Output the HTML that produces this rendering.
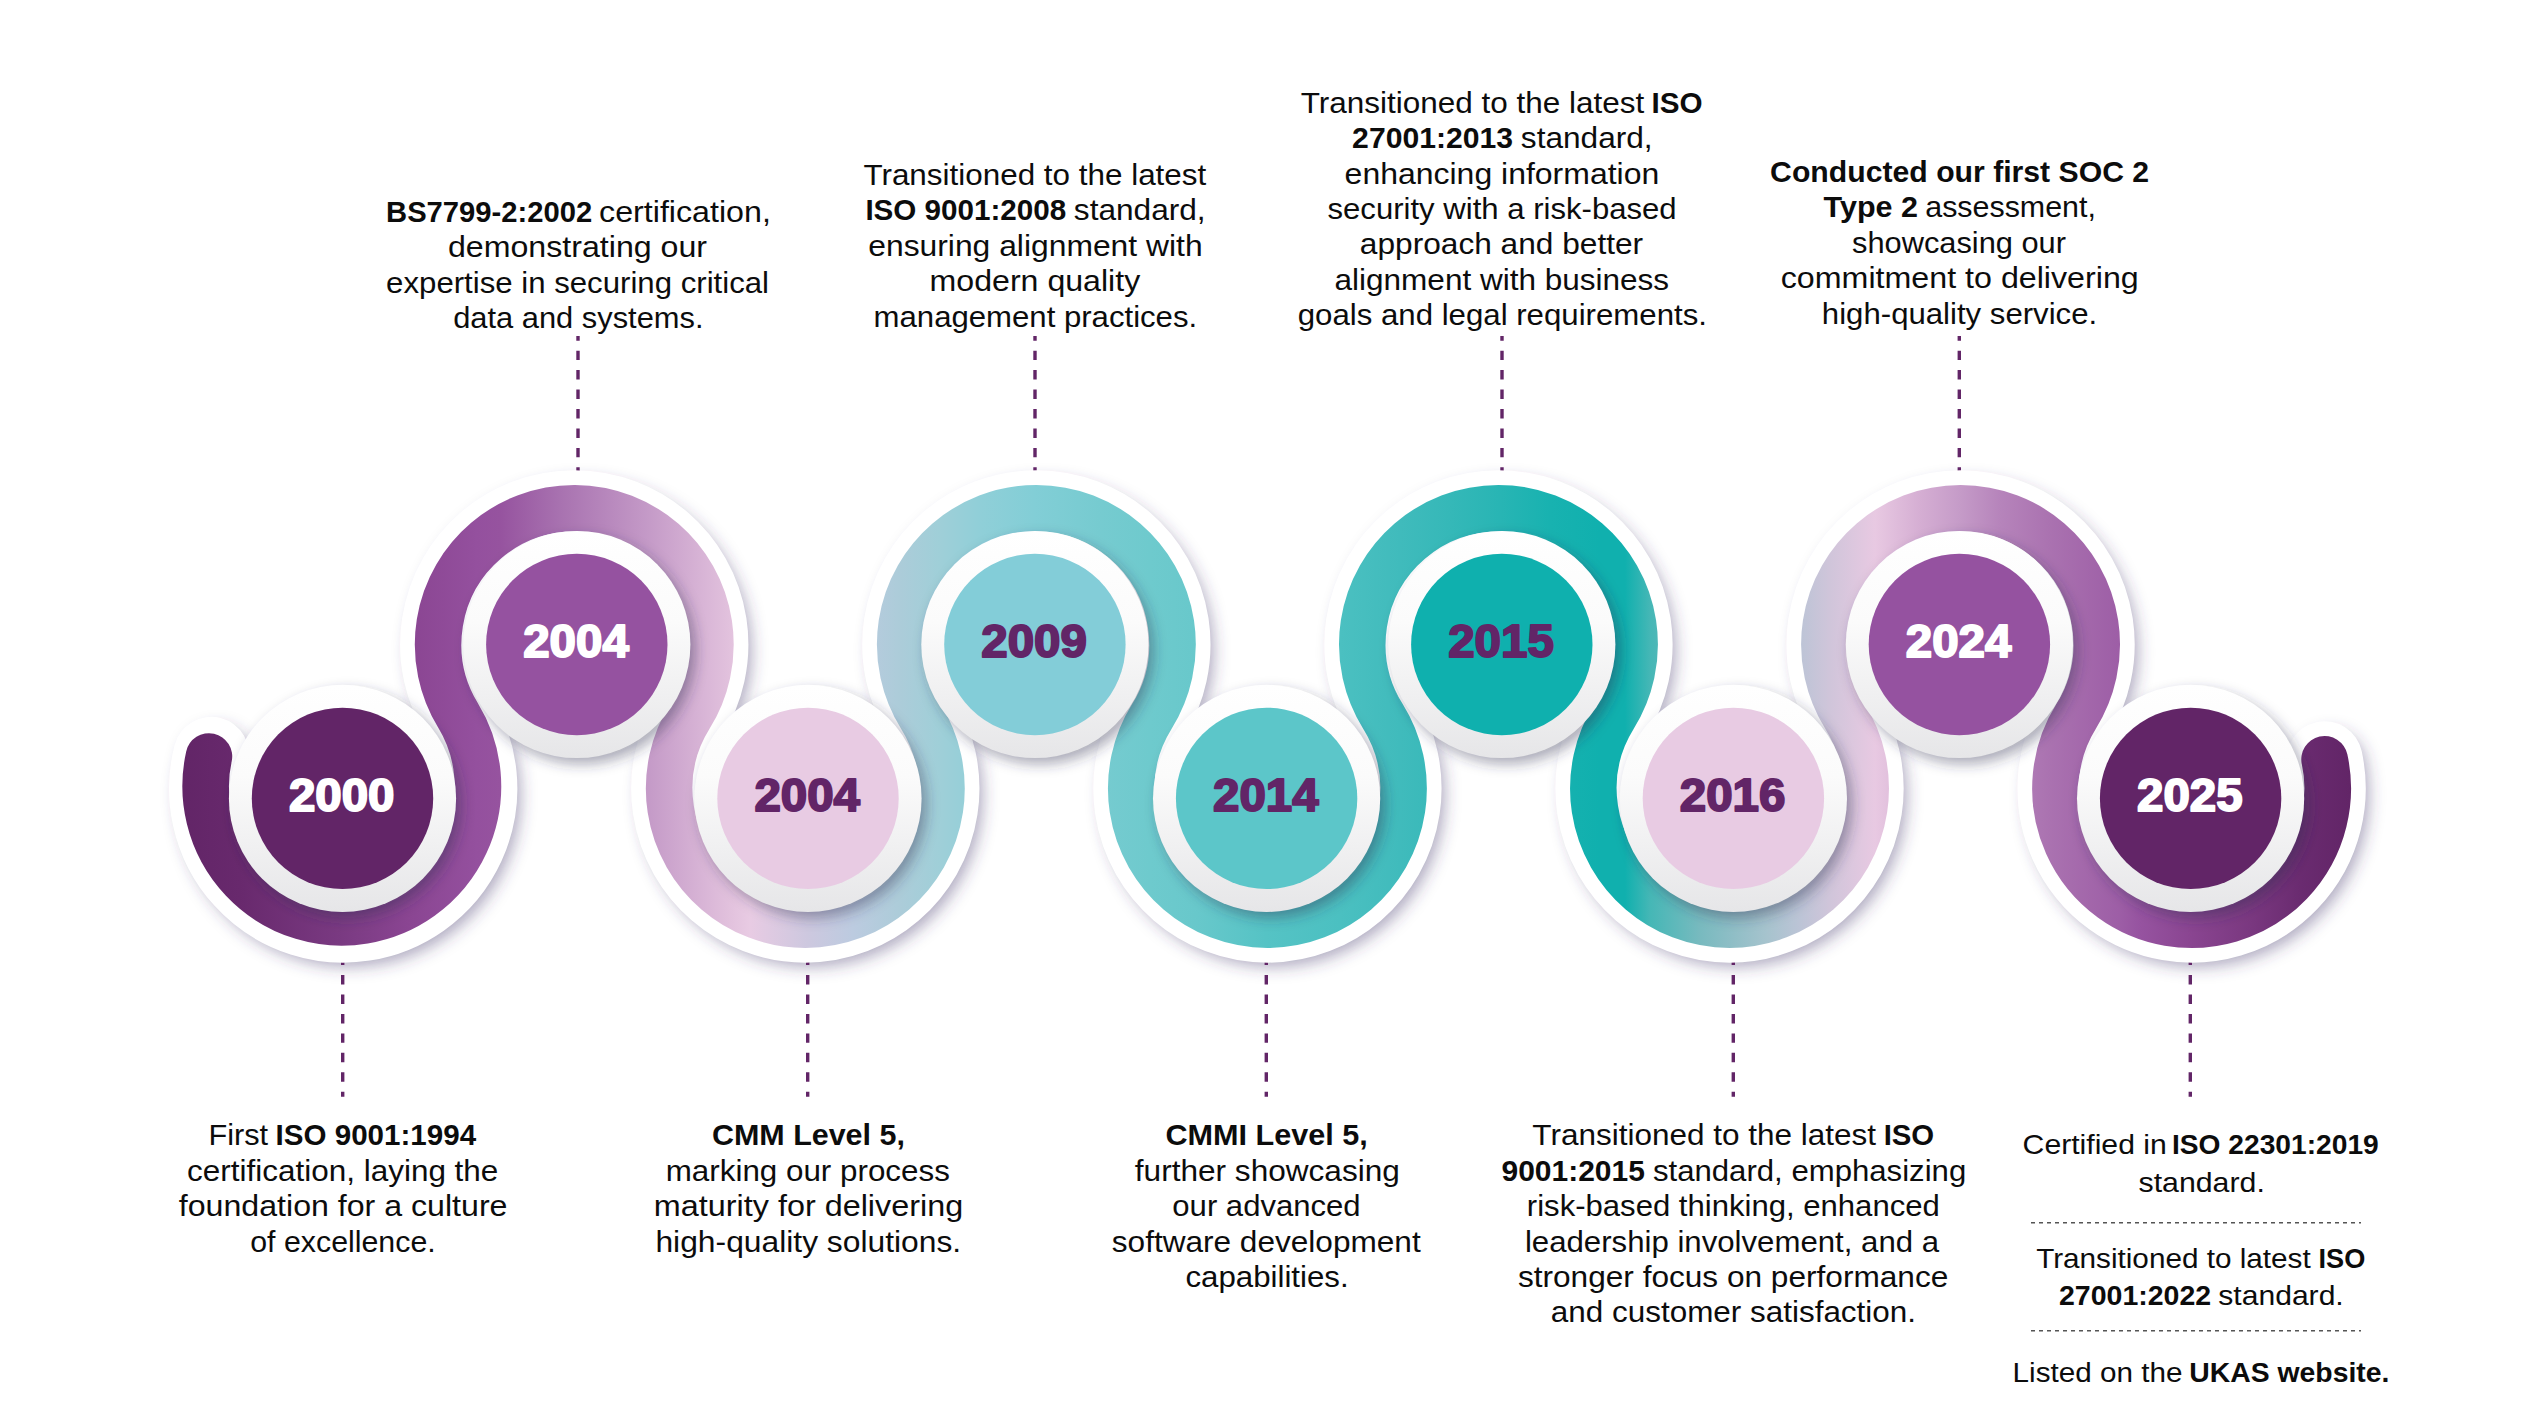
<!DOCTYPE html>
<html lang="en">
<head>
<meta charset="utf-8">
<title>Certification timeline</title>
<style>
html,body{margin:0;padding:0;background:#fff;}
body{width:2526px;height:1420px;overflow:hidden;}
svg{display:block;}
.t text{font-family:"Liberation Sans",sans-serif;fill:#0c0c0c;}
.t text.b{font-weight:bold;}
.yr text{font-family:"Liberation Sans",sans-serif;font-weight:bold;font-size:46.6px;stroke-width:2px;stroke-linejoin:round;}
</style>
</head>
<body>
<svg width="2526" height="1420" viewBox="0 0 2526 1420">
<defs>
<linearGradient id="bg" gradientUnits="userSpaceOnUse" x1="180.0" y1="0" x2="2352.0" y2="0"><stop offset="0.0009" stop-color="#622567"/><stop offset="0.0276" stop-color="#68296d"/><stop offset="0.0746" stop-color="#7a3a82"/><stop offset="0.1054" stop-color="#8a4592"/><stop offset="0.1367" stop-color="#94509e"/><stop offset="0.1473" stop-color="#96539f"/><stop offset="0.1750" stop-color="#a872b0"/><stop offset="0.2164" stop-color="#c59bc8"/><stop offset="0.2546" stop-color="#e3c3de"/><stop offset="0.2624" stop-color="#e8cbe3"/><stop offset="0.2891" stop-color="#cdc8df"/><stop offset="0.3099" stop-color="#bccbe0"/><stop offset="0.3315" stop-color="#acccd9"/><stop offset="0.3499" stop-color="#9fcfd8"/><stop offset="0.3683" stop-color="#90cfd8"/><stop offset="0.3936" stop-color="#82ced6"/><stop offset="0.4236" stop-color="#76cbd0"/><stop offset="0.4466" stop-color="#6ecacd"/><stop offset="0.4678" stop-color="#68c8cb"/><stop offset="0.5000" stop-color="#55c3c5"/><stop offset="0.5341" stop-color="#4bc0c1"/><stop offset="0.5617" stop-color="#40bbbc"/><stop offset="0.5847" stop-color="#35b8b8"/><stop offset="0.6077" stop-color="#28b5b4"/><stop offset="0.6308" stop-color="#18b2b0"/><stop offset="0.6538" stop-color="#10b0ae"/><stop offset="0.6653" stop-color="#10b0ae"/><stop offset="0.6768" stop-color="#45b7b6"/><stop offset="0.6998" stop-color="#78babf"/><stop offset="0.7150" stop-color="#8fbec6"/><stop offset="0.7297" stop-color="#a5c3cd"/><stop offset="0.7459" stop-color="#bcc4d6"/><stop offset="0.7597" stop-color="#d0c5da"/><stop offset="0.7804" stop-color="#e8c9e2"/><stop offset="0.8011" stop-color="#d5aed3"/><stop offset="0.8195" stop-color="#c59bc8"/><stop offset="0.8379" stop-color="#b684bb"/><stop offset="0.8610" stop-color="#aa72b0"/><stop offset="0.8927" stop-color="#9d5ea6"/><stop offset="0.9024" stop-color="#9653a0"/><stop offset="0.9254" stop-color="#8a4591"/><stop offset="0.9530" stop-color="#7a3880"/><stop offset="0.9761" stop-color="#6a2b70"/><stop offset="0.9991" stop-color="#622567"/></linearGradient>
<linearGradient id="dg" x1="0" y1="0" x2="0" y2="1"><stop offset="0" stop-color="#ffffff"/><stop offset="0.4" stop-color="#fbfbfb"/><stop offset="1" stop-color="#e6e6e8"/></linearGradient>
<filter id="bs" x="-5%" y="-20%" width="110%" height="140%"><feGaussianBlur stdDeviation="8"/></filter>
<filter id="ds" x="-20%" y="-20%" width="140%" height="140%"><feGaussianBlur stdDeviation="6.5"/></filter>
</defs>
<rect width="2526" height="1420" fill="#ffffff"/>
<g fill="none" stroke-linecap="round">
<path d="M211.27 754.87 A136.15 136.15 0 1 0 458.73 716.45 A136.15 136.15 0 1 1 689.77 716.45 A136.15 136.15 0 1 0 920.83 716.45 A136.15 136.15 0 1 1 1151.88 716.45 A136.15 136.15 0 1 0 1382.93 716.45 A136.15 136.15 0 1 1 1613.98 716.45 A136.15 136.15 0 1 0 1845.03 716.45 A136.15 136.15 0 1 1 2076.08 716.45 A136.15 136.15 0 1 0 2324.58 759.26" stroke="#41386a" stroke-opacity="0.43" stroke-width="70.0" filter="url(#bs)" transform="translate(6 7)"/>
</g>
<g stroke="#622567" stroke-width="3.4" stroke-dasharray="9.45 10" fill="none"><line x1="578" y1="335.9" x2="578" y2="475" stroke-dashoffset="4.72"/><line x1="1035" y1="335.9" x2="1035" y2="475" stroke-dashoffset="4.72"/><line x1="1502" y1="335.9" x2="1502" y2="475" stroke-dashoffset="4.72"/><line x1="1959.3" y1="335.9" x2="1959.3" y2="475" stroke-dashoffset="4.72"/><line x1="342.7" y1="955.6" x2="342.7" y2="1096.8" stroke-dashoffset="0"/><line x1="807.7" y1="955.6" x2="807.7" y2="1096.8" stroke-dashoffset="0"/><line x1="1266.3" y1="955.6" x2="1266.3" y2="1096.8" stroke-dashoffset="0"/><line x1="1733.3" y1="955.6" x2="1733.3" y2="1096.8" stroke-dashoffset="0"/><line x1="2190.3" y1="955.6" x2="2190.3" y2="1096.8" stroke-dashoffset="0"/></g>
<g fill="none" stroke-linecap="round">
<path d="M211.27 754.87 A136.15 136.15 0 1 0 458.73 716.45 A136.15 136.15 0 1 1 689.77 716.45 A136.15 136.15 0 1 0 920.83 716.45 A136.15 136.15 0 1 1 1151.88 716.45 A136.15 136.15 0 1 0 1382.93 716.45 A136.15 136.15 0 1 1 1613.98 716.45 A136.15 136.15 0 1 0 1845.03 716.45 A136.15 136.15 0 1 1 2076.08 716.45 A136.15 136.15 0 1 0 2324.58 759.26" stroke="#ffffff" stroke-width="76.0"/>
<path d="M208.94 756.5 A136.14 136.14 0 1 0 458.02 715.3 A136.15 136.15 0 1 1 689.77 716.45 A136.15 136.15 0 1 0 920.83 716.45 A136.15 136.15 0 1 1 1151.88 716.45 A136.15 136.15 0 1 0 1382.93 716.45 A136.15 136.15 0 1 1 1613.98 716.45 A136.15 136.15 0 1 0 1845.03 716.45 A136.15 136.15 0 1 1 2076.08 716.45 A136.15 136.15 0 1 0 2324.58 759.26" stroke="url(#bg)" stroke-width="46.6"/>
</g>
<g fill="#2c3050" fill-opacity="0.4" filter="url(#ds)" transform="translate(5 6)"><circle cx="342.5" cy="798.4" r="113.6"/><circle cx="576.8" cy="644.5" r="113.6"/><circle cx="808" cy="798.4" r="113.6"/><circle cx="1034.9" cy="644.5" r="113.6"/><circle cx="1266.6" cy="798.4" r="113.6"/><circle cx="1501.8" cy="644.5" r="113.6"/><circle cx="1733.4" cy="798.4" r="113.6"/><circle cx="1959.4" cy="644.5" r="113.6"/><circle cx="2190.6" cy="798.4" r="113.6"/></g>
<g><circle cx="342.5" cy="798.4" r="113.6" fill="url(#dg)"/><circle cx="576.8" cy="644.5" r="113.6" fill="url(#dg)"/><circle cx="808" cy="798.4" r="113.6" fill="url(#dg)"/><circle cx="1034.9" cy="644.5" r="113.6" fill="url(#dg)"/><circle cx="1266.6" cy="798.4" r="113.6" fill="url(#dg)"/><circle cx="1501.8" cy="644.5" r="113.6" fill="url(#dg)"/><circle cx="1733.4" cy="798.4" r="113.6" fill="url(#dg)"/><circle cx="1959.4" cy="644.5" r="113.6" fill="url(#dg)"/><circle cx="2190.6" cy="798.4" r="113.6" fill="url(#dg)"/></g>
<g><circle cx="342.5" cy="798.4" r="90.7" fill="#622567"/><circle cx="576.8" cy="644.5" r="90.7" fill="#9552a0"/><circle cx="808" cy="798.4" r="90.7" fill="#e8cbe3"/><circle cx="1034.9" cy="644.5" r="90.7" fill="#83cdd8"/><circle cx="1266.6" cy="798.4" r="90.7" fill="#5cc6c9"/><circle cx="1501.8" cy="644.5" r="90.7" fill="#0fb0ae"/><circle cx="1733.4" cy="798.4" r="90.7" fill="#e8cbe3"/><circle cx="1959.4" cy="644.5" r="90.7" fill="#9552a0"/><circle cx="2190.6" cy="798.4" r="90.7" fill="#622567"/></g>
<g stroke="#555555" stroke-width="1.6" stroke-dasharray="4 4" fill="none"><line x1="2031" y1="1222.7" x2="2361" y2="1222.7"/><line x1="2031" y1="1330.7" x2="2361" y2="1330.7"/></g>
<g class="yr"><text x="288.9" y="811.2" fill="#ffffff" stroke="#ffffff" textLength="105.6" lengthAdjust="spacingAndGlyphs">2000</text><text x="523.2" y="657.3" fill="#ffffff" stroke="#ffffff" textLength="105.6" lengthAdjust="spacingAndGlyphs">2004</text><text x="754.4" y="811.2" fill="#622567" stroke="#622567" textLength="105.6" lengthAdjust="spacingAndGlyphs">2004</text><text x="981.3" y="657.3" fill="#622567" stroke="#622567" textLength="105.6" lengthAdjust="spacingAndGlyphs">2009</text><text x="1213" y="811.2" fill="#622567" stroke="#622567" textLength="105.6" lengthAdjust="spacingAndGlyphs">2014</text><text x="1448.2" y="657.3" fill="#622567" stroke="#622567" textLength="105.6" lengthAdjust="spacingAndGlyphs">2015</text><text x="1679.8" y="811.2" fill="#622567" stroke="#622567" textLength="105.6" lengthAdjust="spacingAndGlyphs">2016</text><text x="1905.8" y="657.3" fill="#ffffff" stroke="#ffffff" textLength="105.6" lengthAdjust="spacingAndGlyphs">2024</text><text x="2137" y="811.2" fill="#ffffff" stroke="#ffffff" textLength="105.6" lengthAdjust="spacingAndGlyphs">2025</text></g>
<g class="t">
<text x="386.09" y="221.6" font-size="30" class="b" textLength="206.09" lengthAdjust="spacingAndGlyphs">BS7799-2:2002</text>
<text x="599.06" y="221.6" font-size="30" textLength="171.84" lengthAdjust="spacingAndGlyphs">certification,</text>
<text x="447.99" y="257.2" font-size="30" textLength="259.04" lengthAdjust="spacingAndGlyphs">demonstrating our</text>
<text x="386.14" y="292.7" font-size="30" textLength="382.89" lengthAdjust="spacingAndGlyphs">expertise in securing critical</text>
<text x="453.16" y="328.3" font-size="30" textLength="250.34" lengthAdjust="spacingAndGlyphs">data and systems.</text>
<text x="863.42" y="184.9" font-size="30" textLength="342.87" lengthAdjust="spacingAndGlyphs">Transitioned to the latest</text>
<text x="865.38" y="220.4" font-size="30" class="b" textLength="200.82" lengthAdjust="spacingAndGlyphs">ISO 9001:2008</text>
<text x="1073.86" y="220.4" font-size="30" textLength="131.78" lengthAdjust="spacingAndGlyphs">standard,</text>
<text x="868.25" y="255.9" font-size="30" textLength="334.34" lengthAdjust="spacingAndGlyphs">ensuring alignment with</text>
<text x="929.64" y="291.4" font-size="30" textLength="210.57" lengthAdjust="spacingAndGlyphs">modern quality</text>
<text x="873.58" y="326.9" font-size="30" textLength="323.57" lengthAdjust="spacingAndGlyphs">management practices.</text>
<text x="1300.82" y="113" font-size="30" textLength="343.54" lengthAdjust="spacingAndGlyphs">Transitioned to the latest</text>
<text x="1651.47" y="113" font-size="30" class="b" textLength="51.07" lengthAdjust="spacingAndGlyphs">ISO</text>
<text x="1352.11" y="148.3" font-size="30" class="b" textLength="160.97" lengthAdjust="spacingAndGlyphs">27001:2013</text>
<text x="1520.86" y="148.3" font-size="30" textLength="131.78" lengthAdjust="spacingAndGlyphs">standard,</text>
<text x="1344.62" y="183.6" font-size="30" textLength="314.62" lengthAdjust="spacingAndGlyphs">enhancing information</text>
<text x="1327.54" y="219" font-size="30" textLength="349.1" lengthAdjust="spacingAndGlyphs">security with a risk-based</text>
<text x="1359.88" y="254.3" font-size="30" textLength="283.25" lengthAdjust="spacingAndGlyphs">approach and better</text>
<text x="1334.54" y="289.6" font-size="30" textLength="334.61" lengthAdjust="spacingAndGlyphs">alignment with business</text>
<text x="1297.73" y="324.9" font-size="30" textLength="409.22" lengthAdjust="spacingAndGlyphs">goals and legal requirements.</text>
<text x="1770.14" y="181.7" font-size="30" class="b" textLength="379.03" lengthAdjust="spacingAndGlyphs">Conducted our first SOC 2</text>
<text x="1823.59" y="217.3" font-size="30" class="b" textLength="94.39" lengthAdjust="spacingAndGlyphs">Type 2</text>
<text x="1925.22" y="217.3" font-size="30" textLength="170.68" lengthAdjust="spacingAndGlyphs">assessment,</text>
<text x="1852.06" y="252.8" font-size="30" textLength="213.9" lengthAdjust="spacingAndGlyphs">showcasing our</text>
<text x="1780.73" y="288.4" font-size="30" textLength="358.04" lengthAdjust="spacingAndGlyphs">commitment to delivering</text>
<text x="1821.88" y="323.9" font-size="30" textLength="275.29" lengthAdjust="spacingAndGlyphs">high-quality service.</text>
<text x="208.42" y="1145.3" font-size="30" textLength="59.68" lengthAdjust="spacingAndGlyphs">First</text>
<text x="275.6" y="1145.3" font-size="30" class="b" textLength="200.53" lengthAdjust="spacingAndGlyphs">ISO 9001:1994</text>
<text x="187.14" y="1180.5" font-size="30" textLength="311.22" lengthAdjust="spacingAndGlyphs">certification, laying the</text>
<text x="178.83" y="1216.1" font-size="30" textLength="328.63" lengthAdjust="spacingAndGlyphs">foundation for a culture</text>
<text x="250.25" y="1251.5" font-size="30" textLength="185.43" lengthAdjust="spacingAndGlyphs">of excellence.</text>
<text x="711.96" y="1145.3" font-size="30" class="b" textLength="192.94" lengthAdjust="spacingAndGlyphs">CMM Level 5,</text>
<text x="665.74" y="1180.5" font-size="30" textLength="284.09" lengthAdjust="spacingAndGlyphs">marking our process</text>
<text x="653.87" y="1216.1" font-size="30" textLength="309.28" lengthAdjust="spacingAndGlyphs">maturity for delivering</text>
<text x="655.45" y="1251.5" font-size="30" textLength="305.77" lengthAdjust="spacingAndGlyphs">high-quality solutions.</text>
<text x="1165.44" y="1145.3" font-size="30" class="b" textLength="202.4" lengthAdjust="spacingAndGlyphs">CMMI Level 5,</text>
<text x="1134.84" y="1180.5" font-size="30" textLength="265.02" lengthAdjust="spacingAndGlyphs">further showcasing</text>
<text x="1172.34" y="1216.1" font-size="30" textLength="188.25" lengthAdjust="spacingAndGlyphs">our advanced</text>
<text x="1111.79" y="1251.6" font-size="30" textLength="308.88" lengthAdjust="spacingAndGlyphs">software development</text>
<text x="1185.45" y="1287" font-size="30" textLength="163.17" lengthAdjust="spacingAndGlyphs">capabilities.</text>
<text x="1532.37" y="1145.3" font-size="30" textLength="343.64" lengthAdjust="spacingAndGlyphs">Transitioned to the latest</text>
<text x="1883.63" y="1145.3" font-size="30" class="b" textLength="50.6" lengthAdjust="spacingAndGlyphs">ISO</text>
<text x="1501.49" y="1180.5" font-size="30" class="b" textLength="143.39" lengthAdjust="spacingAndGlyphs">9001:2015</text>
<text x="1652.94" y="1180.5" font-size="30" textLength="313.31" lengthAdjust="spacingAndGlyphs">standard, emphasizing</text>
<text x="1526.86" y="1216.2" font-size="30" textLength="412.93" lengthAdjust="spacingAndGlyphs">risk-based thinking, enhanced</text>
<text x="1524.91" y="1251.7" font-size="30" textLength="414.19" lengthAdjust="spacingAndGlyphs">leadership involvement, and a</text>
<text x="1517.95" y="1287" font-size="30" textLength="430.32" lengthAdjust="spacingAndGlyphs">stronger focus on performance</text>
<text x="1550.89" y="1322.3" font-size="30" textLength="365.12" lengthAdjust="spacingAndGlyphs">and customer satisfaction.</text>
<text x="2022.6" y="1153.9" font-size="27.5" textLength="144.18" lengthAdjust="spacingAndGlyphs">Certified in</text>
<text x="2171.96" y="1153.9" font-size="27.5" class="b" textLength="206.83" lengthAdjust="spacingAndGlyphs">ISO 22301:2019</text>
<text x="2138.5" y="1192" font-size="27.5" textLength="126.31" lengthAdjust="spacingAndGlyphs">standard.</text>
<text x="2036.15" y="1267.5" font-size="27.5" textLength="274.52" lengthAdjust="spacingAndGlyphs">Transitioned to latest</text>
<text x="2318.56" y="1267.5" font-size="27.5" class="b" textLength="46.77" lengthAdjust="spacingAndGlyphs">ISO</text>
<text x="2059.03" y="1305.3" font-size="27.5" class="b" textLength="152.08" lengthAdjust="spacingAndGlyphs">27001:2022</text>
<text x="2218.33" y="1305.3" font-size="27.5" textLength="125.39" lengthAdjust="spacingAndGlyphs">standard.</text>
<text x="2012.62" y="1381.8" font-size="27.5" textLength="169.79" lengthAdjust="spacingAndGlyphs">Listed on the</text>
<text x="2189.39" y="1381.8" font-size="27.5" class="b" textLength="199.99" lengthAdjust="spacingAndGlyphs">UKAS website.</text>
</g>
</svg>
</body>
</html>
